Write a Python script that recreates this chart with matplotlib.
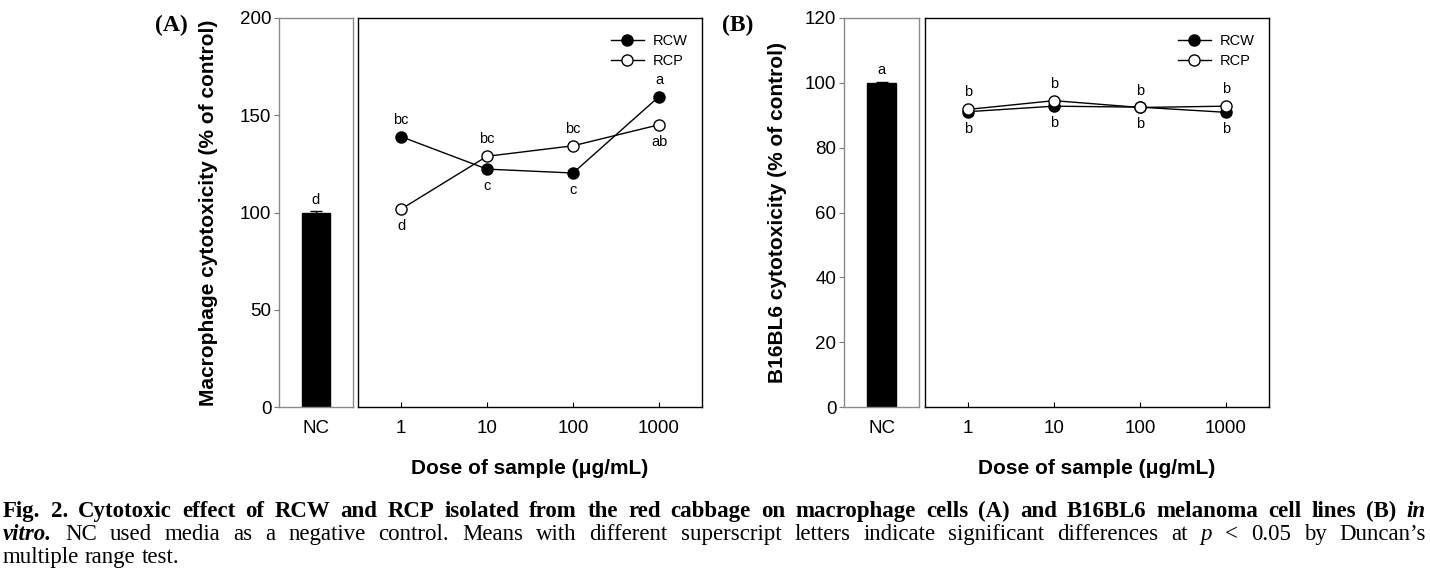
import matplotlib
matplotlib.use('Agg')
import matplotlib.pyplot as plt
from matplotlib.ticker import NullLocator

# ---------------- data ----------------
doses = [1, 10, 100, 1000]
dose_labels = ['1', '10', '100', '1000']
nc_labels = ['NC']

a_nc = [100.0]
a_nc_err = [0.6]
a_nc_letter = 'd'
a_rcw = [139.0, 122.3, 120.3, 159.6]
a_rcp = [101.7, 128.9, 134.3, 145.1]
a_rcw_letters = ['bc', 'c', 'c', 'a']
a_rcw_side = [1, -1, -1, 1]
a_rcp_letters = ['d', 'bc', 'bc', 'ab']
a_rcp_side = [-1, 1, 1, -1]

b_nc = [100.0]
b_nc_err = [0.4]
b_nc_letter = 'a'
b_rcw = [91.1, 92.8, 92.5, 90.9]
b_rcp = [91.8, 94.5, 92.4, 92.8]
b_rcw_letters = ['b', 'b', 'b', 'b']
b_rcw_side = [-1, -1, -1, -1]
b_rcp_letters = ['b', 'b', 'b', 'b']
b_rcp_side = [1, 1, 1, 1]

W, H = 1430, 587
SANS = 'Liberation Sans'
SERIF = 'Liberation Serif'
plt.rcParams['font.family'] = [SANS, 'DejaVu Sans']

fig = plt.figure(figsize=(W / 100, H / 100), dpi=100)


def ax_px(x0, x1, y0, y1):
    return fig.add_axes([x0 / W, 1 - y1 / H, (x1 - x0) / W, (y1 - y0) / H])


def panel(nc_box, main_box, ylim, yticks, nc_val, nc_err, nc_letter,
          rcw, rcp, rcw_let, rcw_side, rcp_let, rcp_side, ylabel, ylabel_x,
          tag, tag_x):
    y0, y1 = 18, 407
    axn = ax_px(nc_box[0], nc_box[1], y0, y1)
    axm = ax_px(main_box[0], main_box[1], y0, y1)

    # NC panel
    axn.bar([0], nc_val, width=0.76, color='black', edgecolor='black',
            yerr=nc_err, capsize=4, error_kw=dict(ecolor='black', lw=1))
    axn.set_xlim(-1, 1)
    axn.set_ylim(*ylim)
    axn.set_yticks(yticks)
    axn.set_yticklabels([str(v) for v in yticks])
    axn.set_xticks([0])
    axn.set_xticklabels(nc_labels)
    axn.tick_params(axis='x', length=0, pad=9.4, labelsize=13.5)
    axn.tick_params(axis='y', direction='out', length=3.5, width=0.8,
                    pad=2, labelsize=13.5, color='#777777')
    for s in axn.spines.values():
        s.set_color('#8a8a8a')
        s.set_linewidth(1.0)
    axn.annotate(nc_letter, (0, nc_val[0]), xytext=(0, 9),
                 textcoords='offset points', ha='center', va='center',
                 fontsize=10.5)
    axn.set_ylabel(ylabel, fontsize=15, fontweight='bold')
    axn.yaxis.set_label_coords(ylabel_x, 0.5)

    # main panel
    axm.set_xscale('log')
    axm.plot(doses, rcw, '-', color='black', lw=1.0, marker='o', ms=8,
             mfc='black', mec='black', mew=1.0, label='RCW')
    axm.plot(doses, rcp, '-', color='black', lw=1.0, marker='o', ms=8,
             mfc='white', mec='black', mew=1.0, label='RCP')
    axm.set_xlim(10 ** -0.5, 10 ** 3.5)
    axm.set_ylim(*ylim)
    axm.set_yticks([])
    axm.set_xticks(doses)
    axm.set_xticklabels(dose_labels)
    axm.xaxis.set_minor_locator(NullLocator())
    axm.tick_params(axis='x', direction='in', length=3.6, width=0.8,
                    pad=9.4, labelsize=13.5)
    for s in axm.spines.values():
        s.set_color('black')
        s.set_linewidth(1.0)
    for x, v, t, sd in zip(doses, rcw, rcw_let, rcw_side):
        axm.annotate(t, (x, v), xytext=(0, 12.2 * sd), textcoords='offset points',
                     ha='center', va='center', fontsize=10.5)
    for x, v, t, sd in zip(doses, rcp, rcp_let, rcp_side):
        axm.annotate(t, (x, v), xytext=(0, 12.2 * sd), textcoords='offset points',
                     ha='center', va='center', fontsize=10.5)
    axm.legend(loc='upper right', bbox_to_anchor=(0.958, 0.958),
               frameon=False, fontsize=10.5, handlelength=2.26,
               handletextpad=0.62, labelspacing=0.42, borderpad=0,
               borderaxespad=0)
    axm.set_xlabel('Dose of sample (\u03bcg/mL)', fontsize=15,
                   fontweight='bold', va='top')
    axm.xaxis.set_label_coords(0.5, -0.134)

    fig.text(tag_x / W, 1 - 25 / H, tag, family=SERIF, fontweight='bold',
             fontsize=17, ha='left', va='center')


panel((279, 353), (358, 702), (0, 200), [0, 50, 100, 150, 200],
      a_nc, a_nc_err, a_nc_letter, a_rcw, a_rcp,
      a_rcw_letters, a_rcw_side, a_rcp_letters, a_rcp_side,
      'Macrophage cytotoxicity (% of control)', -0.824, '(A)', 155)
panel((844, 919), (925, 1269), (0, 120), [0, 20, 40, 60, 80, 100, 120],
      b_nc, b_nc_err, b_nc_letter, b_rcw, b_rcp,
      b_rcw_letters, b_rcw_side, b_rcp_letters, b_rcp_side,
      'B16BL6 cytotoxicity (% of control)', -0.76, '(B)', 722)

# ---------------- caption ----------------
cap_size = 16.5
line1 = [(w, 'bold', 'normal') for w in
         'Fig. 2. Cytotoxic effect of RCW and RCP isolated from the red cabbage on macrophage cells (A) and B16BL6 melanoma cell lines (B)'.split()]
line1 += [('in', 'bold', 'italic')]
line2 = [('vitro.', 'bold', 'italic')]
line2 += [(w, 'normal', 'normal') for w in
          'NC used media as a negative control. Means with different superscript letters indicate significant differences at'.split()]
line2 += [('p', 'normal', 'italic')]
line2 += [(w, 'normal', 'normal') for w in '< 0.05 by Duncan\u2019s'.split()]
line3 = [(w, 'normal', 'normal') for w in 'multiple range test.'.split()]

renderer = fig.canvas.get_renderer()
X0, X1 = 3, 1426


def place_line(tokens, baseline_px, justify):
    texts = []
    widths = []
    for word, wt, st in tokens:
        t = fig.text(0, 1 - baseline_px / H, word, family=SERIF, fontsize=cap_size,
                     fontweight=wt, fontstyle=st, ha='left', va='baseline')
        texts.append(t)
        widths.append(t.get_window_extent(renderer).width)
    sp = fig.text(0, 0, 'a a', family=SERIF, fontsize=cap_size)
    sw = sp.get_window_extent(renderer).width
    sp2 = fig.text(0, 0, 'aa', family=SERIF, fontsize=cap_size)
    sw = sw - sp2.get_window_extent(renderer).width
    sp.remove(); sp2.remove()
    if justify and len(texts) > 1:
        gap = (X1 - X0 - sum(widths)) / (len(texts) - 1)
    else:
        gap = sw
    x = X0
    for t, w in zip(texts, widths):
        t.set_x(x / W)
        x += w + gap


place_line(line1, 517, True)
place_line(line2, 540, True)
place_line(line3, 563, False)

fig.savefig('out.png', dpi=100)
